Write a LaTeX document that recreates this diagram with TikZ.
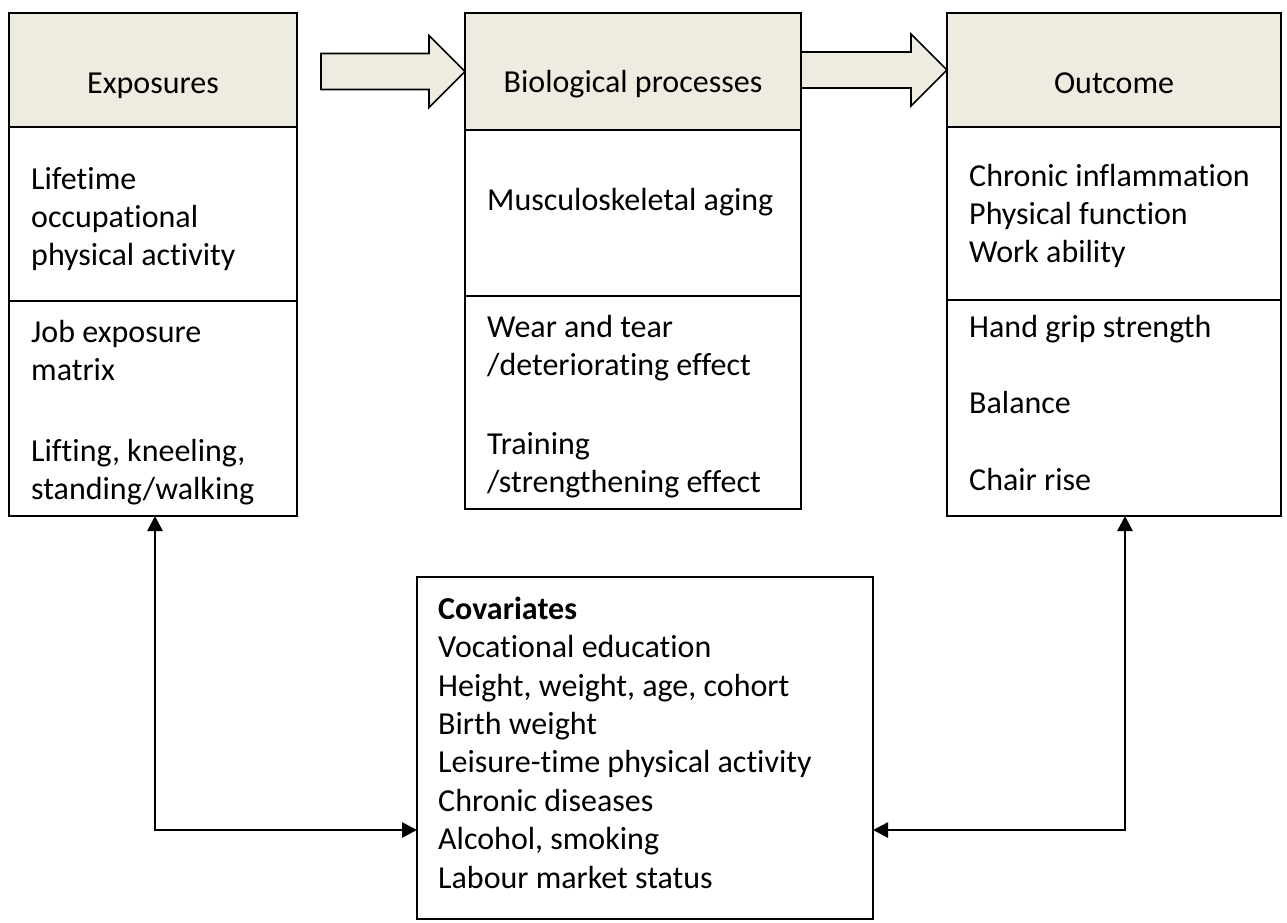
\documentclass[tikz,border=0pt]{standalone}
\usepackage{fontspec}
\setmainfont{Carlito}[Ligatures=NoCommon]
\usetikzlibrary{arrows.meta,calc}
\definecolor{hdrfill}{HTML}{EEECE1}
% wide block arrow from a tail point to a tip point (tip sits on a box edge)
\newcommand\blockarrow[2]{%
  \draw[barrow] ($(#1 |- #2)+(0,-18)$) -- ($(#2)+(-36,-18)$) -- ($(#2)+(-36,-36)$)
    -- (#2) -- ($(#2)+(-36,36)$) -- ($(#2)+(-36,18)$) -- ($(#1 |- #2)+(0,18)$) -- cycle;}
\begin{document}
\begin{tikzpicture}[x=1pt,y=-1pt,
  frame/.style={draw=black,line width=1.8pt,anchor=north west,inner sep=0pt,outer sep=0pt},
  hdr/.style={frame,fill=hdrfill},
  % multi-line texts are placed by the baseline of their last line
  txt/.style={anchor=base west,inner sep=0pt,align=left,font=\fontsize{32}{38}\selectfont},
  htxt/.style={anchor=base,inner sep=0pt,font=\fontsize{32}{38}\selectfont},
  barrow/.style={draw=black,line width=1.6pt,fill=hdrfill,line join=miter},
  conn/.style={line width=2.7pt,{Triangle[length=15pt,width=15pt]}-{Triangle[length=15pt,width=15pt]}}]
\useasboundingbox (0,0) rectangle (1287,922);

% Exposures column
\node[hdr,minimum width=288pt,minimum height=114pt] (exph) at (9,13) {};
\node[frame,minimum width=288pt,minimum height=174pt] (expm) at (exph.south west) {};
\node[frame,minimum width=288pt,minimum height=215pt] (expl) at (expm.south west) {};
\node[htxt] (expt) at (153,93) {Exposures};
\node[txt] (expa) at (31,265) {Lifetime\\occupational\\physical activity};
\node[txt] (expb) at (31,499) {Job exposure\\matrix\\[43pt]Lifting, kneeling,\\standing/walking};

% Biological processes column
\node[hdr,minimum width=336pt,minimum height=117pt] (bioh) at (465,13) {};
\node[frame,minimum width=336pt,minimum height=166pt] (biom) at (bioh.south west) {};
\node[frame,minimum width=336pt,minimum height=213pt] (biol) at (biom.south west) {};
\node[htxt] (biot) at (633,92) {Biological processes};
\node[txt] (bioa) at (487,210) {Musculoskeletal aging};
\node[txt] (biob) at (487,492) {Wear and tear\\/deteriorating effect\\[41pt]Training\\/strengthening effect};

% Outcome column
\node[hdr,minimum width=334pt,minimum height=114pt] (outh) at (947,13) {};
\node[frame,minimum width=334pt,minimum height=173pt] (outm) at (outh.south west) {};
\node[frame,minimum width=334pt,minimum height=216pt] (outl) at (outm.south west) {};
\node[htxt] (outt) at (1114,93) {Outcome};
\node[txt] (outa) at (969,262) {Chronic inflammation\\Physical function\\Work ability};
\node[txt] (outb) at (969,490) {Hand grip strength\\[38pt]Balance\\[39pt]Chair rise};

% Covariates
\node[frame,minimum width=456pt,minimum height=342pt] (cov) at (417,577) {};
\node[txt,font=\fontsize{32}{38.4}\selectfont] (covt) at (438,888)
  {\textbf{Covariates}\\Vocational education\\Height, weight, age, cohort\\Birth weight\\Leisure-time physical activity\\Chronic diseases\\Alcohol, smoking\\Labour market status};

% block arrows between the columns
\coordinate (a1) at (321,0);
\blockarrow{a1}{bioh.west}
\blockarrow{bioh.east}{outh.west}

% two-headed connectors to the covariates box
\coordinate (lc) at (155,830);
\coordinate (rc) at (1125,830);
\draw[conn] (expl.south -| lc) -- (lc) -- (cov.west |- lc);
\draw[conn] (outl.south -| rc) -- (rc) -- (cov.east |- rc);
\end{tikzpicture}
\end{document}
